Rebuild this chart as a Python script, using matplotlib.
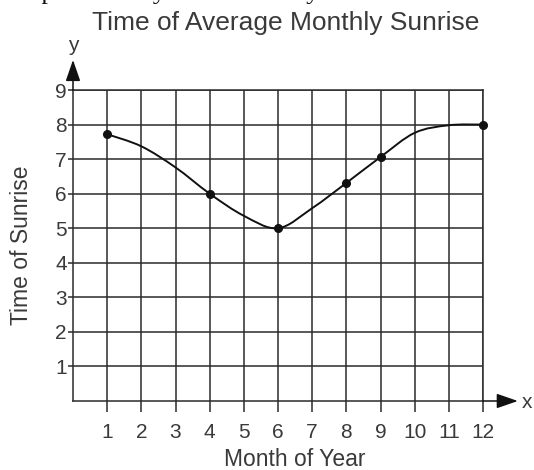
import matplotlib
matplotlib.use("Agg")
import matplotlib.pyplot as plt
from matplotlib.path import Path
from matplotlib.patches import PathPatch

plt.rcParams["font.family"] = ["Liberation Sans", "DejaVu Sans"]

# values
months = [1, 2, 3, 4, 5, 6, 7, 8, 9, 10, 11, 12]
curve_times = [7.72, 7.37, 6.76, 6.0, 5.36, 5.0, 5.58, 6.31, 7.06, 7.76, 7.98, 8.0]
marked_months = [1, 4, 6, 8, 9, 12]
marked_times = [7.72, 6.0, 5.0, 6.3, 7.05, 8.0]
x_ticks = list(range(1, 13))
y_ticks = list(range(1, 10))

title = "Time of Average Monthly Sunrise"
x_label = "Month of Year"
y_label = "Time of Sunrise"
top_text = "Explain how you arrived at your answer."

ink = "#2b2b2b"
text_col = "#3a3a3a"

fig = plt.figure(figsize=(5.34, 4.70), dpi=100)
ax = fig.add_axes([73 / 534, 1 - 401 / 470, 410 / 534, 311 / 470])
ax.set_xlim(0, 12)
ax.set_ylim(0, 9)

ax.set_xticks(x_ticks)
ax.set_xticklabels([str(t) for t in x_ticks])
ax.set_yticks(y_ticks)
ax.set_yticklabels([str(t) for t in y_ticks])
ax.grid(True, color=ink, lw=1.1)
for s in ax.spines.values():
    s.set_color(ink)
    s.set_linewidth(1.1)
ax.tick_params(axis="x", direction="out", length=8, width=1.1, color=ink,
               pad=8, labelsize=15, labelcolor=text_col)
ax.tick_params(axis="y", direction="out", length=3.5, width=1.1, color=ink,
               pad=1, labelsize=15, labelcolor=text_col)

# smooth curve through the monthly readings (Catmull-Rom as cubic Beziers)
pts = list(zip(months, curve_times))
verts = [pts[0]]
codes = [Path.MOVETO]
for i in range(len(pts) - 1):
    p0 = pts[max(i - 1, 0)]
    p1 = pts[i]
    p2 = pts[i + 1]
    p3 = pts[min(i + 2, len(pts) - 1)]
    c1 = (p1[0] + (p2[0] - p0[0]) / 6, p1[1] + (p2[1] - p0[1]) / 6)
    c2 = (p2[0] - (p3[0] - p1[0]) / 6, p2[1] - (p3[1] - p1[1]) / 6)
    verts += [c1, c2, p2]
    codes += [Path.CURVE4] * 3
ax.add_patch(PathPatch(Path(verts, codes), fill=False, edgecolor="#111111",
                       lw=1.4, zorder=3))
ax.plot(marked_months, marked_times, "o", color="#111111", ms=5.5, zorder=4,
        clip_on=False)

# axis arrows
head = "-|>,head_length=1.3,head_width=0.45"
ax.annotate("", xy=(13.02, 0), xytext=(12, 0), annotation_clip=False,
            arrowprops=dict(arrowstyle=head, color="#111111", lw=1.1,
                            shrinkA=0, shrinkB=0))
ax.annotate("", xy=(0, 9.87), xytext=(0, 9), annotation_clip=False,
            arrowprops=dict(arrowstyle=head, color="#111111", lw=1.1,
                            shrinkA=0, shrinkB=0))
ax.text(13.3, -0.05, "x", fontsize=15, color=text_col, ha="center", va="center",
        clip_on=False)
ax.text(0, 10.3, "y", fontsize=15, color=text_col, ha="center", va="center",
        clip_on=False)

# title pad (about 8 px) is added on top of y
ax.set_title(title, fontsize=19, color=text_col, x=(286 - 73) / 410,
             y=(401 - 38) / 311, va="baseline")
ax.set_xlabel(x_label, fontsize=16.5, color=text_col)
ax.xaxis.set_label_coords((295 - 73) / 410, (401 - 459) / 311)
ax.xaxis.label.set_va("center")
ax.set_ylabel(y_label, fontsize=16.5, color=text_col)
ax.yaxis.set_label_coords((22 - 73) / 410, 0.5)
ax.yaxis.label.set_va("center")

# sentence above the chart, only its lower edge shows in the picture
fig.text(12 / 534, 1 + 1 / 470, top_text, family="Liberation Serif",
         fontsize=19, color="#111111", va="baseline")

fig.savefig("out.png", dpi=100, facecolor="white")
